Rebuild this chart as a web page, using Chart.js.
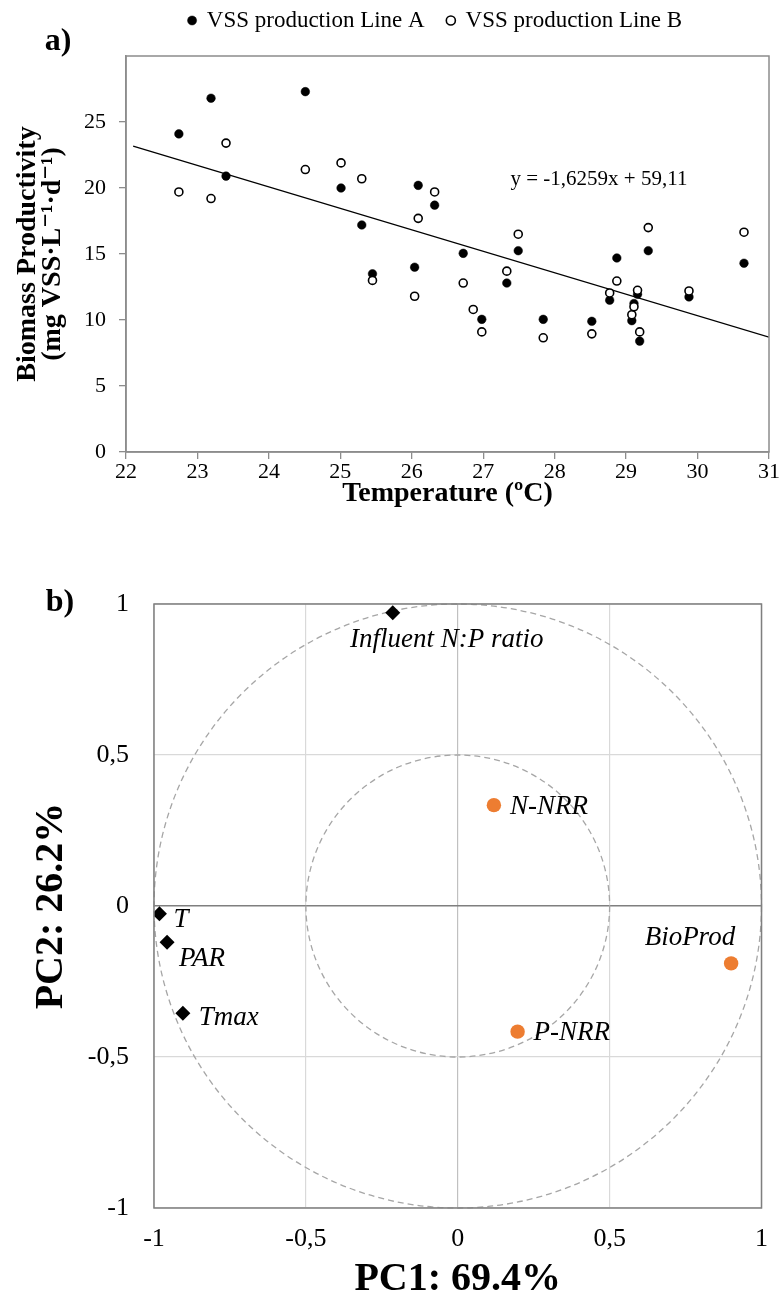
<!DOCTYPE html>
<html>
<head>
<meta charset="utf-8">
<script src="https://cdn.jsdelivr.net/npm/chart.js@4.4.1/dist/chart.umd.min.js"></script>
<style>
  html, body { margin: 0; padding: 0; background: #fff; }
  body { width: 784px; height: 1302px; position: relative; overflow: hidden; }
  canvas { position: absolute; left: 0; }
  #top { top: 0; }
  #bottom { top: 530px; }
</style>
</head>
<body>
<canvas id="top" width="784" height="520"></canvas>
<canvas id="bottom" width="784" height="772"></canvas>
<script>
// a) biomass productivity vs temperature
const tempA = [22.74, 23.19, 23.40, 24.51, 25.01, 25.30, 25.45, 26.04, 26.09, 26.32, 26.72, 26.98, 27.33,
  27.49, 27.84, 28.52, 28.77, 28.87, 29.08, 29.11, 29.16, 29.19, 29.31, 29.88, 30.65];
const vssA = [24.1, 26.8, 20.9, 27.3, 20.0, 17.2, 13.5, 14.0, 20.2, 18.7, 15.05, 10.05, 12.8,
  15.25, 10.05, 9.9, 11.5, 14.7, 9.95, 11.25, 11.95, 8.4, 15.25, 11.75, 14.3];
const tempB = [22.74, 23.19, 23.40, 24.51, 25.01, 25.30, 25.45, 26.04, 26.09, 26.32, 26.72, 26.86, 26.98,
  27.33, 27.49, 27.84, 28.52, 28.77, 28.87, 29.08, 29.11, 29.16, 29.19, 29.31, 29.88, 30.65];
const vssB = [19.7, 19.2, 23.4, 21.4, 21.9, 20.7, 13.0, 11.8, 17.7, 19.7, 12.8, 10.8, 9.1,
  13.7, 16.5, 8.65, 8.95, 12.05, 12.95, 10.4, 11.0, 12.25, 9.1, 17.0, 12.2, 16.65];
const trendX = [22.1, 31];
const trendSlope = -1.6259;
const trendIntercept = 59.11;
const trendLabel = 'y = -1,6259x + 59,11';
const trendLabelAt = [28.62, 20.65];

// b) PCA loadings
const varNames = ['Influent N:P ratio', 'T', 'PAR', 'Tmax'];
const varPC1 = [-0.214, -0.982, -0.957, -0.905];
const varPC2 = [0.971, -0.026, -0.12, -0.355];
const respNames = ['N-NRR', 'P-NRR', 'BioProd'];
const respPC1 = [0.119, 0.197, 0.900];
const respPC2 = [0.334, -0.416, -0.19];
const circleRadii = [1, 0.5];

// label placement next to the points (px offset, align)
const labelPos = {
  'Influent N:P ratio': [54, 27, 'center'],
  'T': [14, 6, 'left'],
  'PAR': [12, 17, 'left'],
  'Tmax': [16, 5, 'left'],
  'N-NRR': [16, 2, 'left'],
  'P-NRR': [16, 1, 'left'],
  'BioProd': [4, -25, 'right']
};

const serif = "'Liberation Serif', 'DejaVu Serif', serif";
Chart.defaults.font.family = serif;
Chart.defaults.color = '#000';

function pts(xs, ys) {
  return xs.map((x, i) => ({x: x, y: ys[i]}));
}

function frame(color) {
  return {
    id: 'frame',
    afterDraw(chart) {
      const {ctx, chartArea: a} = chart;
      ctx.save();
      ctx.strokeStyle = color;
      ctx.lineWidth = 1.5;
      ctx.strokeRect(a.left, a.top, a.right - a.left, a.bottom - a.top);
      ctx.restore();
    }
  };
}

const topExtras = {
  id: 'topExtras',
  afterLayout(chart) {
    // pull the legend up and a bit left, as in the original
    chart.legend.top -= 14;
    chart.legend.bottom -= 14;
    chart.legend.left -= 12;
    chart.legend.right -= 12;
  },
  afterDraw(chart) {
    const ctx = chart.ctx;
    const x = chart.scales.x, y = chart.scales.y;
    ctx.save();
    ctx.fillStyle = '#000';
    ctx.textBaseline = 'middle';
    ctx.textAlign = 'center';
    ctx.font = '21px ' + serif;
    ctx.fillText(trendLabel, x.getPixelForValue(trendLabelAt[0]), y.getPixelForValue(trendLabelAt[1]));
    ctx.font = 'bold 32px ' + serif;
    ctx.fillText('a)', 58, 42);
    ctx.restore();
  }
};

new Chart(document.getElementById('top'), {
  type: 'scatter',
  data: {
    datasets: [
      {
        label: 'VSS production Line A',
        data: pts(tempA, vssA),
        pointStyle: 'circle',
        pointRadius: 4.3,
        backgroundColor: '#000',
        borderColor: '#000',
        borderWidth: 0.5,
        order: 1
      },
      {
        label: 'VSS production Line B',
        data: pts(tempB, vssB),
        pointStyle: 'circle',
        pointRadius: 4,
        backgroundColor: '#fff',
        borderColor: '#000',
        borderWidth: 1.6,
        order: 0
      },
      {
        type: 'line',
        label: 'trend',
        data: trendX.map(t => ({x: t, y: trendSlope * t + trendIntercept})),
        borderColor: '#000',
        borderWidth: 1.2,
        pointRadius: 0,
        fill: false,
        order: 2
      }
    ]
  },
  options: {
    responsive: false,
    animation: false,
    layout: {padding: {top: 0, right: 15, left: 0, bottom: 0}},
    plugins: {
      tooltip: {enabled: false},
      legend: {
        position: 'top',
        fullSize: false,
        labels: {
          usePointStyle: true,
          boxWidth: 6.4,
          boxHeight: 6.4,
          padding: 23,
          font: {size: 23},
          color: '#000',
          filter: item => item.text !== 'trend',
          sort: (a, b) => a.datasetIndex - b.datasetIndex
        }
      }
    },
    scales: {
      x: {
        type: 'linear',
        min: 22,
        max: 31,
        ticks: {stepSize: 1, font: {size: 22}, padding: 0, color: '#000'},
        grid: {drawOnChartArea: false, drawTicks: true, tickLength: 7, color: '#8c8c8c', lineWidth: 1.3},
        border: {color: '#8c8c8c', width: 1.5},
        title: {display: true, text: 'Temperature (ºC)', font: {size: 28, weight: 'bold', lineHeight: 1.1}, padding: {top: 0, bottom: 11}},
        afterFit(s) { s.height = 68; }
      },
      y: {
        min: 0,
        max: 30,
        ticks: {stepSize: 5, font: {size: 22}, padding: 13, color: '#000', callback: v => v === 30 ? '' : v},
        grid: {drawOnChartArea: false, drawTicks: true, tickLength: 7, lineWidth: 1.3,
          color: c => c.tick && c.tick.value === 30 ? 'rgba(0,0,0,0)' : '#8c8c8c'},
        border: {color: '#8c8c8c', width: 1.5},
        title: {
          display: true,
          text: ['Biomass Productivity', '(mg VSS·L⁻¹·d⁻¹)'],
          font: {size: 28, weight: 'bold', lineHeight: 0.9},
          padding: {top: 15, bottom: 0}
        },
        afterFit(s) { s.width = 126; }
      }
    }
  },
  plugins: [frame('#8c8c8c'), topExtras]
});

const bottomExtras = {
  id: 'bottomExtras',
  beforeDatasetsDraw(chart) {
    const ctx = chart.ctx;
    const x = chart.scales.x, y = chart.scales.y;
    const cx = x.getPixelForValue(0), cy = y.getPixelForValue(0);
    ctx.save();
    ctx.strokeStyle = '#a6a6a6';
    ctx.lineWidth = 1.3;
    ctx.setLineDash([6, 4]);
    circleRadii.forEach(r => {
      ctx.beginPath();
      ctx.ellipse(cx, cy, x.getPixelForValue(r) - cx, cy - y.getPixelForValue(r), 0, 0, 2 * Math.PI);
      ctx.stroke();
    });
    ctx.restore();
  },
  afterDraw(chart) {
    const ctx = chart.ctx;
    const x = chart.scales.x, y = chart.scales.y;
    ctx.save();
    ctx.fillStyle = '#000';
    ctx.textBaseline = 'middle';
    ctx.font = 'italic 27px ' + serif;
    const names = varNames.concat(respNames);
    const px = varPC1.concat(respPC1);
    const py = varPC2.concat(respPC2);
    names.forEach((n, i) => {
      const p = labelPos[n];
      ctx.textAlign = p[2];
      ctx.fillText(n, x.getPixelForValue(px[i]) + p[0], y.getPixelForValue(py[i]) + p[1]);
    });
    ctx.textAlign = 'center';
    ctx.font = 'bold 32px ' + serif;
    ctx.fillText('b)', 60, 73);
    ctx.restore();
  }
};

const commaFmt = v => String(v).replace('.', ',');

new Chart(document.getElementById('bottom'), {
  type: 'scatter',
  data: {
    datasets: [
      {
        label: 'variables',
        data: pts(varPC1, varPC2),
        pointStyle: 'rectRot',
        pointRadius: 7.5,
        backgroundColor: '#000',
        borderColor: '#000',
        borderWidth: 0
      },
      {
        label: 'responses',
        data: pts(respPC1, respPC2),
        pointStyle: 'circle',
        pointRadius: 7.2,
        backgroundColor: '#ED7D31',
        borderColor: '#ED7D31',
        borderWidth: 0
      }
    ]
  },
  options: {
    responsive: false,
    animation: false,
    layout: {padding: {top: 74, right: 18, left: 0, bottom: 0}},
    plugins: {legend: {display: false}, tooltip: {enabled: false}},
    scales: {
      x: {
        min: -1,
        max: 1,
        ticks: {stepSize: 0.5, font: {size: 26}, padding: 16, color: '#000', callback: commaFmt},
        grid: {drawTicks: false, lineWidth: 1.2, color: c => c.tick && c.tick.value === 0 ? '#c0c0c0' : '#d9d9d9'},
        border: {display: false},
        title: {display: true, text: 'PC1: 69.4%', font: {size: 40, weight: 'bold', lineHeight: 1.1}, padding: {top: 0, bottom: 0}},
        afterFit(s) { s.height = 94; }
      },
      y: {
        min: -1,
        max: 1,
        ticks: {stepSize: 0.5, font: {size: 26}, padding: 25, color: '#000', callback: commaFmt},
        grid: {drawTicks: false,
          lineWidth: c => c.tick && c.tick.value === 0 ? 1.6 : 1.2,
          color: c => c.tick && c.tick.value === 0 ? '#7f7f7f' : '#d9d9d9'},
        border: {display: false},
        title: {display: true, text: 'PC2: 26.2%', font: {size: 40, weight: 'bold', lineHeight: 1.1}, padding: {top: 30, bottom: 0}},
        afterFit(s) { s.width = 154; }
      }
    }
  },
  plugins: [frame('#7f7f7f'), bottomExtras]
});
</script>
</body>
</html>
